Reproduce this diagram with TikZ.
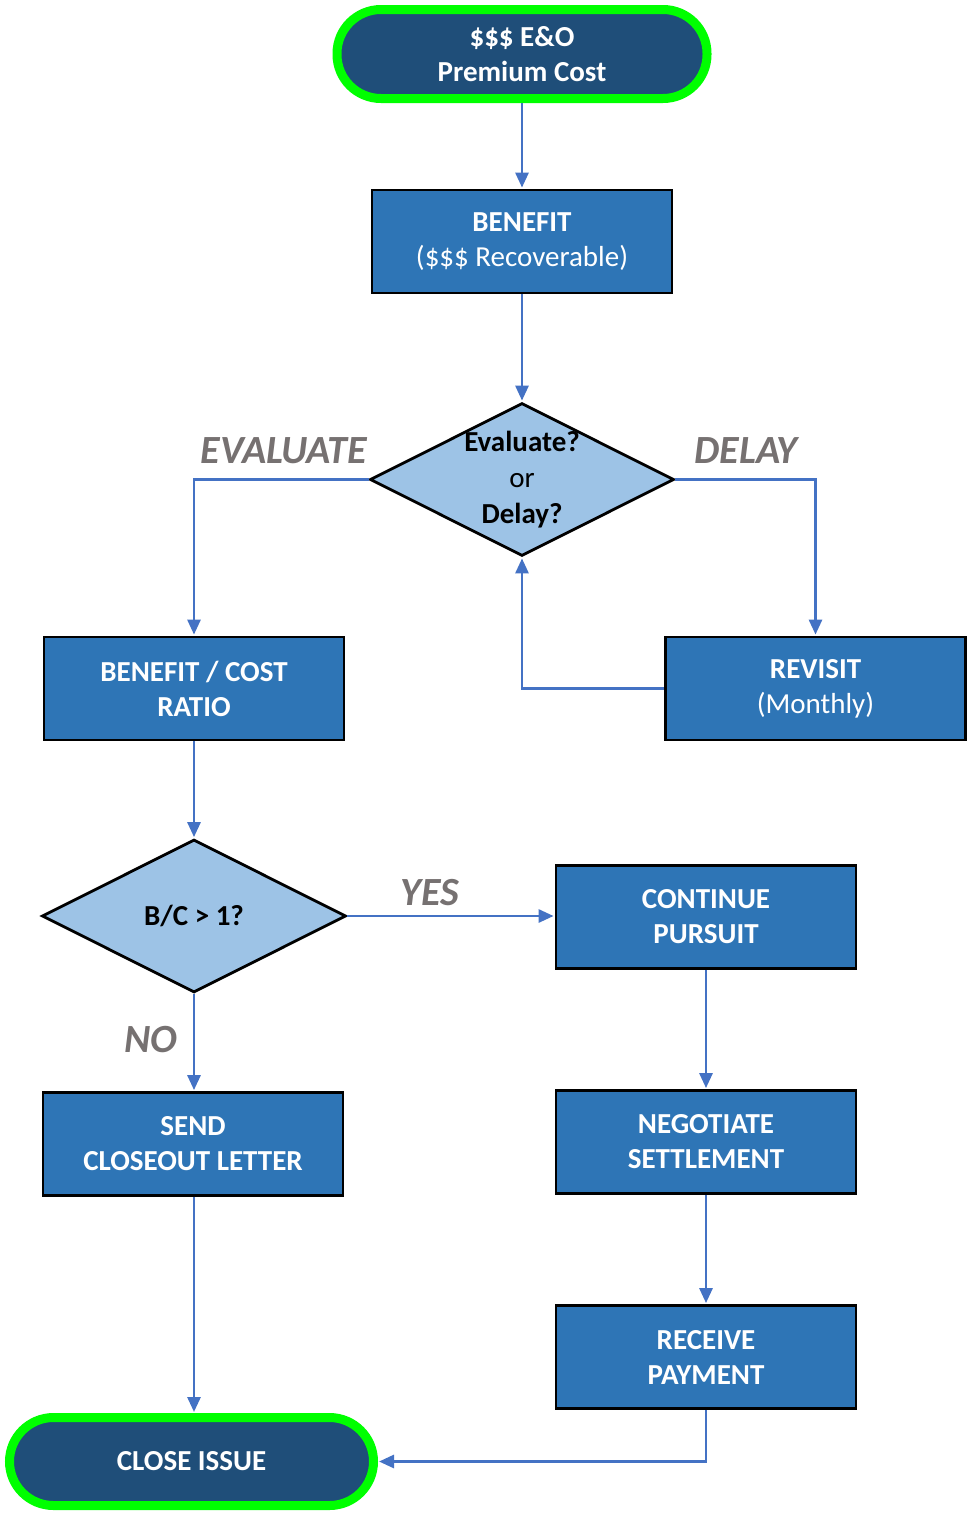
\documentclass[tikz,border=0pt]{standalone}
\usepackage{fontspec}
\setmainfont{Carlito}
\usetikzlibrary{arrows.meta,shapes.geometric}
\definecolor{termfill}{HTML}{1F4E79}
\definecolor{termline}{HTML}{00FF00}
\definecolor{boxfill}{HTML}{2E75B6}
\definecolor{diafill}{HTML}{9DC3E6}
\definecolor{conn}{HTML}{4472C4}
\definecolor{lblgray}{HTML}{767171}
\begin{document}
\begin{tikzpicture}[x=1pt,y=-1pt,
  terminal/.style={draw=termline, line width=9pt, fill=termfill, rounded corners=44pt,
    minimum width=370pt, minimum height=89pt, inner sep=0pt, text=white, align=center,
    font=\fontsize{29}{35}\selectfont\bfseries},
  stepbox/.style={draw=black, line width=2.8pt, fill=boxfill, minimum width=300pt,
    minimum height=103pt, inner sep=0pt, text=white, align=center,
    font=\fontsize{29}{35}\selectfont},
  decision/.style={diamond, draw=black, line width=2.8pt, fill=diafill, inner sep=0pt,
    minimum width=304pt, minimum height=153pt},
  dtext/.style={align=center, text=black, font=\fontsize{29}{36}\selectfont},
  conn/.style={draw=conn, line width=2.8pt, -{Triangle[length=15pt,width=13pt]}, shorten >=1pt},
  branch/.style={text=lblgray, font=\fontsize{40}{44}\selectfont\bfseries\itshape}
]
\useasboundingbox (0,0) rectangle (969,1513);

\node[terminal] (top) at (522,54) {\$\$\$ E\&O\\Premium Cost};
\node[stepbox] (benefit) at (522,241.5) {\textbf{BENEFIT}\\(\$\$\$ Recoverable)};
\node[decision, label={[dtext]center:\textbf{Evaluate?}\\or\\\textbf{Delay?}}] (d1) at (522,479.5) {};
\node[stepbox] (bcr) at (194,688.5) {\textbf{BENEFIT / COST}\\\textbf{RATIO}};
\node[stepbox] (revisit) at (815.5,688.5) {\textbf{REVISIT}\\(Monthly)};
\node[decision, label={[dtext]center:\textbf{B/C > 1?}}] (d2) at (194,916) {};
\node[stepbox] (cont) at (706,917) {\textbf{CONTINUE}\\\textbf{PURSUIT}};
\node[stepbox] (send) at (193,1144) {\textbf{SEND}\\\textbf{CLOSEOUT LETTER}};
\node[stepbox] (neg) at (706,1142) {\textbf{NEGOTIATE}\\\textbf{SETTLEMENT}};
\node[stepbox] (recv) at (706,1357) {\textbf{RECEIVE}\\\textbf{PAYMENT}};
\node[terminal, minimum width=364pt, minimum height=88pt] (close) at (191.5,1461.5) {CLOSE ISSUE};

\node[branch] (lev) at (284,451) {EVALUATE};
\node[branch] (ldl) at (746,451) {DELAY};
\node[branch] (lyes) at (430,893) {YES};
\node[branch] (lno) at (151,1040) {NO};

\draw[conn] (top.south) -- (benefit.north);
\draw[conn] (benefit.south) -- (d1.north);
\draw[conn] (d1.west) -| (bcr.north);
\draw[conn] (d1.east) -| (revisit.north);
\draw[conn] (revisit.west) -| (d1.south);
\draw[conn] (bcr.south) -- (d2.north);
\draw[conn] (d2.east) -- (d2.east -| cont.west);
\draw[conn] (d2.south) -- (d2.south |- send.north);
\draw[conn] (cont.south) -- (neg.north);
\draw[conn] (neg.south) -- (recv.north);
\draw[conn] (d2.south |- send.south) -- (d2.south |- close.north);
\draw[conn] (recv.south) |- (close.east);
\end{tikzpicture}
\end{document}
